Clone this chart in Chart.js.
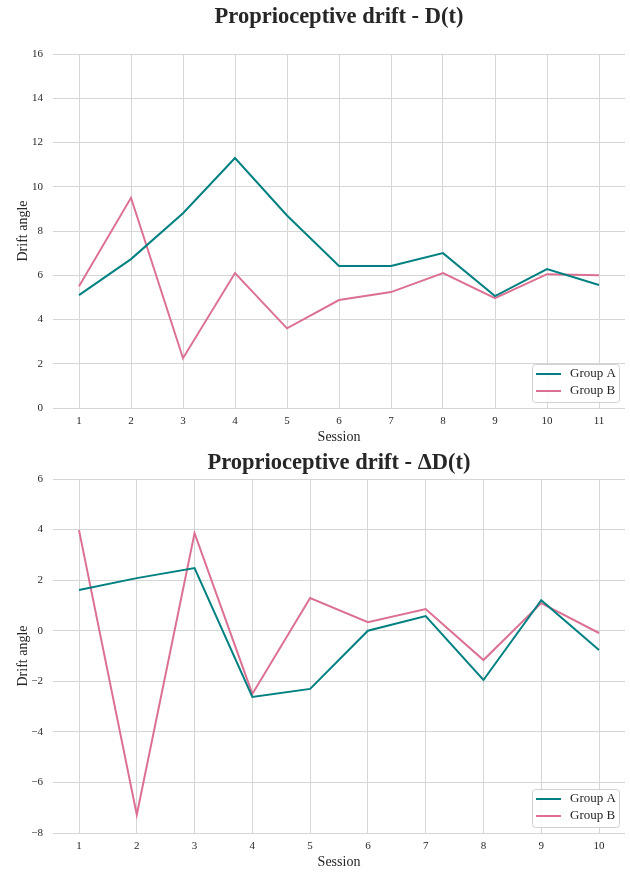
<!DOCTYPE html>
<html>
<head>
<meta charset="utf-8">
<script src="https://cdn.jsdelivr.net/npm/chart.js@4.4.1/dist/chart.umd.min.js"></script>
<style>
  html, body { margin: 0; padding: 0; background: #fff; }
  canvas { display: block; }
</style>
</head>
<body>
<canvas id="driftChart" width="630" height="448"></canvas>
<canvas id="deltaChart" width="630" height="425"></canvas>
<script>
// === data === //
const sessionsD = [1, 2, 3, 4, 5, 6, 7, 8, 9, 10, 11];
const groupAD = [5.1, 6.73, 8.8, 11.3, 8.7, 6.42, 6.42, 7.0, 5.06, 6.28, 5.56];
const groupBD = [5.5, 9.5, 2.25, 6.1, 3.6, 4.88, 5.24, 6.1, 4.97, 6.05, 6.0];

const sessionsDelta = [1, 2, 3, 4, 5, 6, 7, 8, 9, 10];
const groupADelta = [1.61, 2.08, 2.48, -2.62, -2.3, 0.0, 0.58, -1.95, 1.21, -0.76];
const groupBDelta = [3.98, -7.28, 3.86, -2.5, 1.29, 0.34, 0.86, -1.16, 1.09, -0.09];

const seriesNames = ['Group A', 'Group B'];
const seriesColors = ['#008080', '#db7093'];

const serif = "'Liberation Serif', 'Times New Roman', serif";
const textColor = '#262626';
const gridColor = '#d6d6d6';

// title centred over the plot area (like matplotlib)
const plotTitle = {
  id: 'plotTitle',
  afterDraw(chart, args, opts) {
    const { ctx, chartArea } = chart;
    ctx.save();
    ctx.font = `bold 22.5px ${serif}`;
    ctx.fillStyle = textColor;
    ctx.textAlign = 'center';
    ctx.textBaseline = 'middle';
    ctx.fillText(opts.text, (chartArea.left + chartArea.right) / 2, opts.y);
    ctx.restore();
  },
};

// legend box in lower right corner of the plot
const cornerLegend = {
  id: 'cornerLegend',
  afterDraw(chart) {
    const { ctx, chartArea } = chart;
    const w = 87, h = 38;
    const x = chartArea.right - 6 - w;
    const y = chartArea.bottom - 6 - h;
    ctx.save();
    ctx.fillStyle = 'rgba(255,255,255,0.85)';
    ctx.strokeStyle = '#d0d0d0';
    ctx.lineWidth = 1;
    ctx.beginPath();
    ctx.roundRect(x + 0.5, y + 0.5, w, h, 3);
    ctx.fill();
    ctx.stroke();
    ctx.font = `13px ${serif}`;
    ctx.textBaseline = 'middle';
    chart.data.datasets.forEach((ds, i) => {
      const ly = y + 10 + i * 17;
      ctx.strokeStyle = ds.borderColor;
      ctx.lineWidth = 2;
      ctx.beginPath();
      ctx.moveTo(x + 4, ly);
      ctx.lineTo(x + 29, ly);
      ctx.stroke();
      ctx.fillStyle = textColor;
      ctx.fillText(ds.label, x + 38, ly);
    });
    ctx.restore();
  },
};

const makeChart = (id, sessions, seriesA, seriesB, title, titleY, padTop, yMin, yMax) => {
  const margin = (sessions[sessions.length - 1] - sessions[0]) * 0.05;
  return new Chart(document.getElementById(id), {
    type: 'line',
    data: {
      datasets: [seriesA, seriesB].map((vals, i) => ({
        label: seriesNames[i],
        data: sessions.map((s, j) => ({ x: s, y: vals[j] })),
        borderColor: seriesColors[i],
        backgroundColor: seriesColors[i],
        borderWidth: 2,
        pointRadius: 0,
        tension: 0,
      })),
    },
    options: {
      responsive: false,
      animation: false,
      layout: { padding: { top: padTop, right: 5, left: 0, bottom: 0 } },
      plugins: {
        legend: { display: false },
        tooltip: { enabled: false },
        plotTitle: { text: title, y: titleY },
      },
      scales: {
        x: {
          type: 'linear',
          min: sessions[0] - margin,
          max: sessions[sessions.length - 1] + margin,
          afterBuildTicks: (scale) => {
            scale.ticks = sessions.map((s) => ({ value: s }));
          },
          afterFit: (scale) => {
            scale.height = 40;
          },
          grid: { color: gridColor, lineWidth: 1, drawTicks: false },
          border: { display: false },
          ticks: {
            color: textColor,
            font: { family: serif, size: 11 },
            padding: 7,
            maxRotation: 0,
          },
          title: {
            display: true,
            text: 'Session',
            color: textColor,
            font: { family: serif, size: 14 },
            padding: { top: 0, bottom: 2 },
          },
        },
        y: {
          min: yMin,
          max: yMax,
          afterFit: (scale) => {
            scale.width = 53;
          },
          grid: { color: gridColor, lineWidth: 1, drawTicks: false },
          border: { display: false },
          ticks: {
            stepSize: 2,
            color: textColor,
            font: { family: serif, size: 11 },
            padding: 10,
            callback: (v) => String(v).replace('-', '\u2212'),
          },
          title: {
            display: true,
            text: 'Drift angle',
            color: textColor,
            font: { family: serif, size: 14 },
            padding: { top: 15, bottom: 0 },
          },
        },
      },
    },
    plugins: [plotTitle, cornerLegend],
  });
};

makeChart('driftChart', sessionsD, groupAD, groupBD, 'Proprioceptive drift - D(t)', 17, 54, 0, 16);
makeChart('deltaChart', sessionsDelta, groupADelta, groupBDelta, 'Proprioceptive drift - \u0394D(t)', 15, 31, -8, 6);
</script>
</body>
</html>
